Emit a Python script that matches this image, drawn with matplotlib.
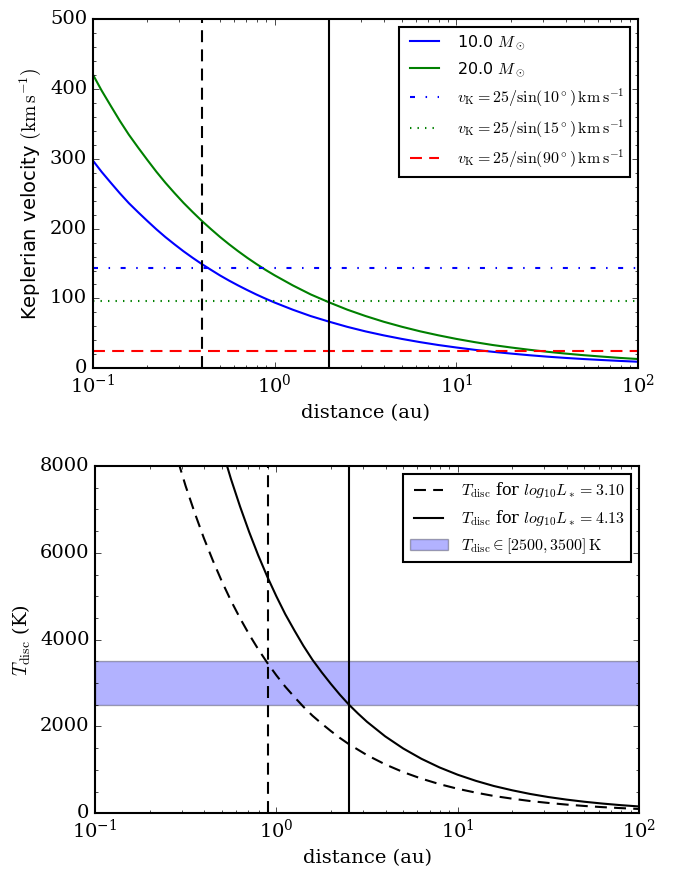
import matplotlib
matplotlib.use("Agg")
import matplotlib.pyplot as plt
from matplotlib.ticker import MultipleLocator

plt.style.use("classic")
plt.rcParams["font.family"] = "serif"
plt.rcParams["font.serif"] = ["DejaVu Serif"]
plt.rcParams["mathtext.fontset"] = "cm"
plt.rcParams["axes.linewidth"] = 1.5

# distances (au) the curves were read at
dist = [0.1, 0.112, 0.126, 0.141, 0.158, 0.178, 0.2, 0.224, 0.251, 0.282,
        0.316, 0.355, 0.398, 0.447, 0.501, 0.562, 0.631, 0.708, 0.794, 0.891,
        1.0, 1.26, 1.58, 2.0, 2.51, 3.16, 3.98, 5.01, 6.31, 7.94,
        10.0, 12.6, 15.8, 20.0, 25.1, 31.6, 39.8, 50.1, 63.1, 79.4, 100.0]

# keplerian velocity (km/s)
vk_10 = [297.8, 281.2, 265.4, 250.6, 236.5, 223.3, 210.8, 199.0, 187.9, 177.4,
         167.5, 158.1, 149.3, 141.0, 133.0, 125.6, 118.6, 112.0, 105.7, 99.8,
         94.2, 83.9, 74.8, 66.7, 59.4, 52.9, 47.2, 42.1, 37.5, 33.4,
         29.8, 26.5, 23.7, 21.1, 18.8, 16.7, 14.9, 13.3, 11.9, 10.6, 9.4]
vk_20 = [421.1, 397.6, 375.3, 354.3, 334.5, 315.8, 298.1, 281.4, 265.7, 250.8,
         236.8, 223.6, 211.1, 199.3, 188.1, 177.6, 167.6, 158.2, 149.4, 141.0,
         133.2, 118.7, 105.8, 94.3, 84.0, 74.9, 66.7, 59.5, 53.0, 47.3,
         42.1, 37.5, 33.4, 29.8, 26.6, 23.7, 21.1, 18.8, 16.8, 14.9, 13.3]
masses = ["10.0", "20.0"]
incl_deg = [10, 15, 90]
vk_limits = [143.97, 96.59, 25.0]
vk_colors = ["b", "g", "r"]
vk_dashes = [(3.6, 7.6, 1.1, 7.6), (1.0, 4.4), (8.6, 5.2)]
vlines_top = [0.4, 2.0]

# disc temperature (K)
dist_low = [0.251, 0.282, 0.316, 0.355, 0.398, 0.447, 0.501, 0.562, 0.631, 0.708,
            0.794, 0.891, 1.0, 1.12, 1.26, 1.41, 1.58, 1.78, 2.0, 2.24,
            2.51, 3.16, 3.98, 5.01, 6.31, 7.94, 10.0, 12.6, 15.8, 20.0,
            25.1, 31.6, 39.8, 50.1, 63.1, 79.4, 100.0]
t_low = [8961, 8220, 7540, 6916, 6344, 5819, 5339, 4897, 4493, 4121,
         3781, 3468, 3180, 2917, 2676, 2455, 2251, 2065, 1894, 1737,
         1594, 1341, 1128, 949, 799, 672, 565, 476, 400, 337,
         283, 239, 201, 169, 142, 120, 100]
dist_high = [0.501, 0.562, 0.631, 0.708, 0.794, 0.891, 1.0, 1.12, 1.26, 1.41,
             1.58, 1.78, 2.0, 2.24, 2.51, 2.82, 3.16, 3.98, 5.01, 6.31,
             7.94, 10.0, 12.6, 15.8, 20.0, 25.1, 31.6, 39.8, 50.1, 63.1,
             79.4, 100.0]
t_high = [8395, 7701, 7065, 6481, 5945, 5453, 5000, 4587, 4207, 3859,
          3540, 3247, 2979, 2733, 2506, 2299, 2109, 1774, 1493, 1256,
          1057, 889, 748, 630, 530, 446, 375, 316, 266, 224,
          188, 158]
log_lum = ["3.10", "4.13"]
t_band = [2500, 3500]
vlines_bot = [0.9, 2.51]

dash = (8.6, 5.2)

fig = plt.figure(figsize=(6.84, 8.72), dpi=100)
fig.patch.set_facecolor("white")

# --- top panel ---
ax1 = fig.add_axes([0.1355, 0.5776, 0.7977, 0.4006])
ax1.plot(dist, vk_10, color="b", lw=1.5, label=masses[0] + r" $M_\odot$")
ax1.plot(dist, vk_20, color="g", lw=1.5, label=masses[1] + r" $M_\odot$")
for v, inc, c, dd in zip(vk_limits, incl_deg, vk_colors, vk_dashes):
    ax1.axhline(v, color=c, ls="--", dashes=dd, lw=1.5,
                label=r"$v_{\rm K} = 25/\sin(%d^\circ)\,{\rm km\,s^{-1}}$" % inc)
ax1.axvline(vlines_top[0], color="k", ls="--", dashes=dash, lw=1.5)
ax1.axvline(vlines_top[1], color="k", ls="-", lw=1.5)
ax1.set_xscale("log")
ax1.set_xlim(0.1, 100)
ax1.set_ylim(0, 500)
ax1.yaxis.set_major_locator(MultipleLocator(100))
ax1.yaxis.set_minor_locator(MultipleLocator(20))
ax1.set_xlabel("distance (au)", fontsize=14)
ax1.set_ylabel(r"Keplerian velocity $({\rm km\,s^{-1}})$", fontsize=14,
               family="DejaVu Sans")
ax1.tick_params(labelsize=14)
leg1 = ax1.legend(loc="upper right", handlelength=2.4,
                  prop={"family": "DejaVu Sans", "size": 11.5})
leg1.get_frame().set_linewidth(1.5)

# --- bottom panel ---
ax2 = fig.add_axes([0.1389, 0.0673, 0.7953, 0.3983])
ax2.plot(dist_low, t_low, color="k", ls="--", dashes=dash, lw=1.5,
         label=r"$T_{\rm disc}$ for $log_{10}L_* = %s$" % log_lum[0])
ax2.plot(dist_high, t_high, color="k", ls="-", lw=1.5,
         label=r"$T_{\rm disc}$ for $log_{10}L_* = %s$" % log_lum[1])
ax2.axhspan(t_band[0], t_band[1], facecolor="b", edgecolor="k", alpha=0.3,
            label=r"$T_{\rm disc} \in [%d, %d]\,{\rm K}$" % (t_band[0], t_band[1]))
ax2.axvline(vlines_bot[0], color="k", ls="--", dashes=dash, lw=1.5)
ax2.axvline(vlines_bot[1], color="k", ls="-", lw=1.5)
ax2.set_xscale("log")
ax2.set_xlim(0.1, 100)
ax2.set_ylim(0, 8000)
ax2.yaxis.set_major_locator(MultipleLocator(2000))
ax2.yaxis.set_minor_locator(MultipleLocator(500))
ax2.set_xlabel("distance (au)", fontsize=14)
ax2.set_ylabel(r"$T_{\rm disc}$ (K)", fontsize=14)
ax2.tick_params(labelsize=14)
leg2 = ax2.legend(loc="upper right", handlelength=2.4, fontsize=11.5)
leg2.get_frame().set_linewidth(1.5)

fig.savefig("out.png", dpi=100)
